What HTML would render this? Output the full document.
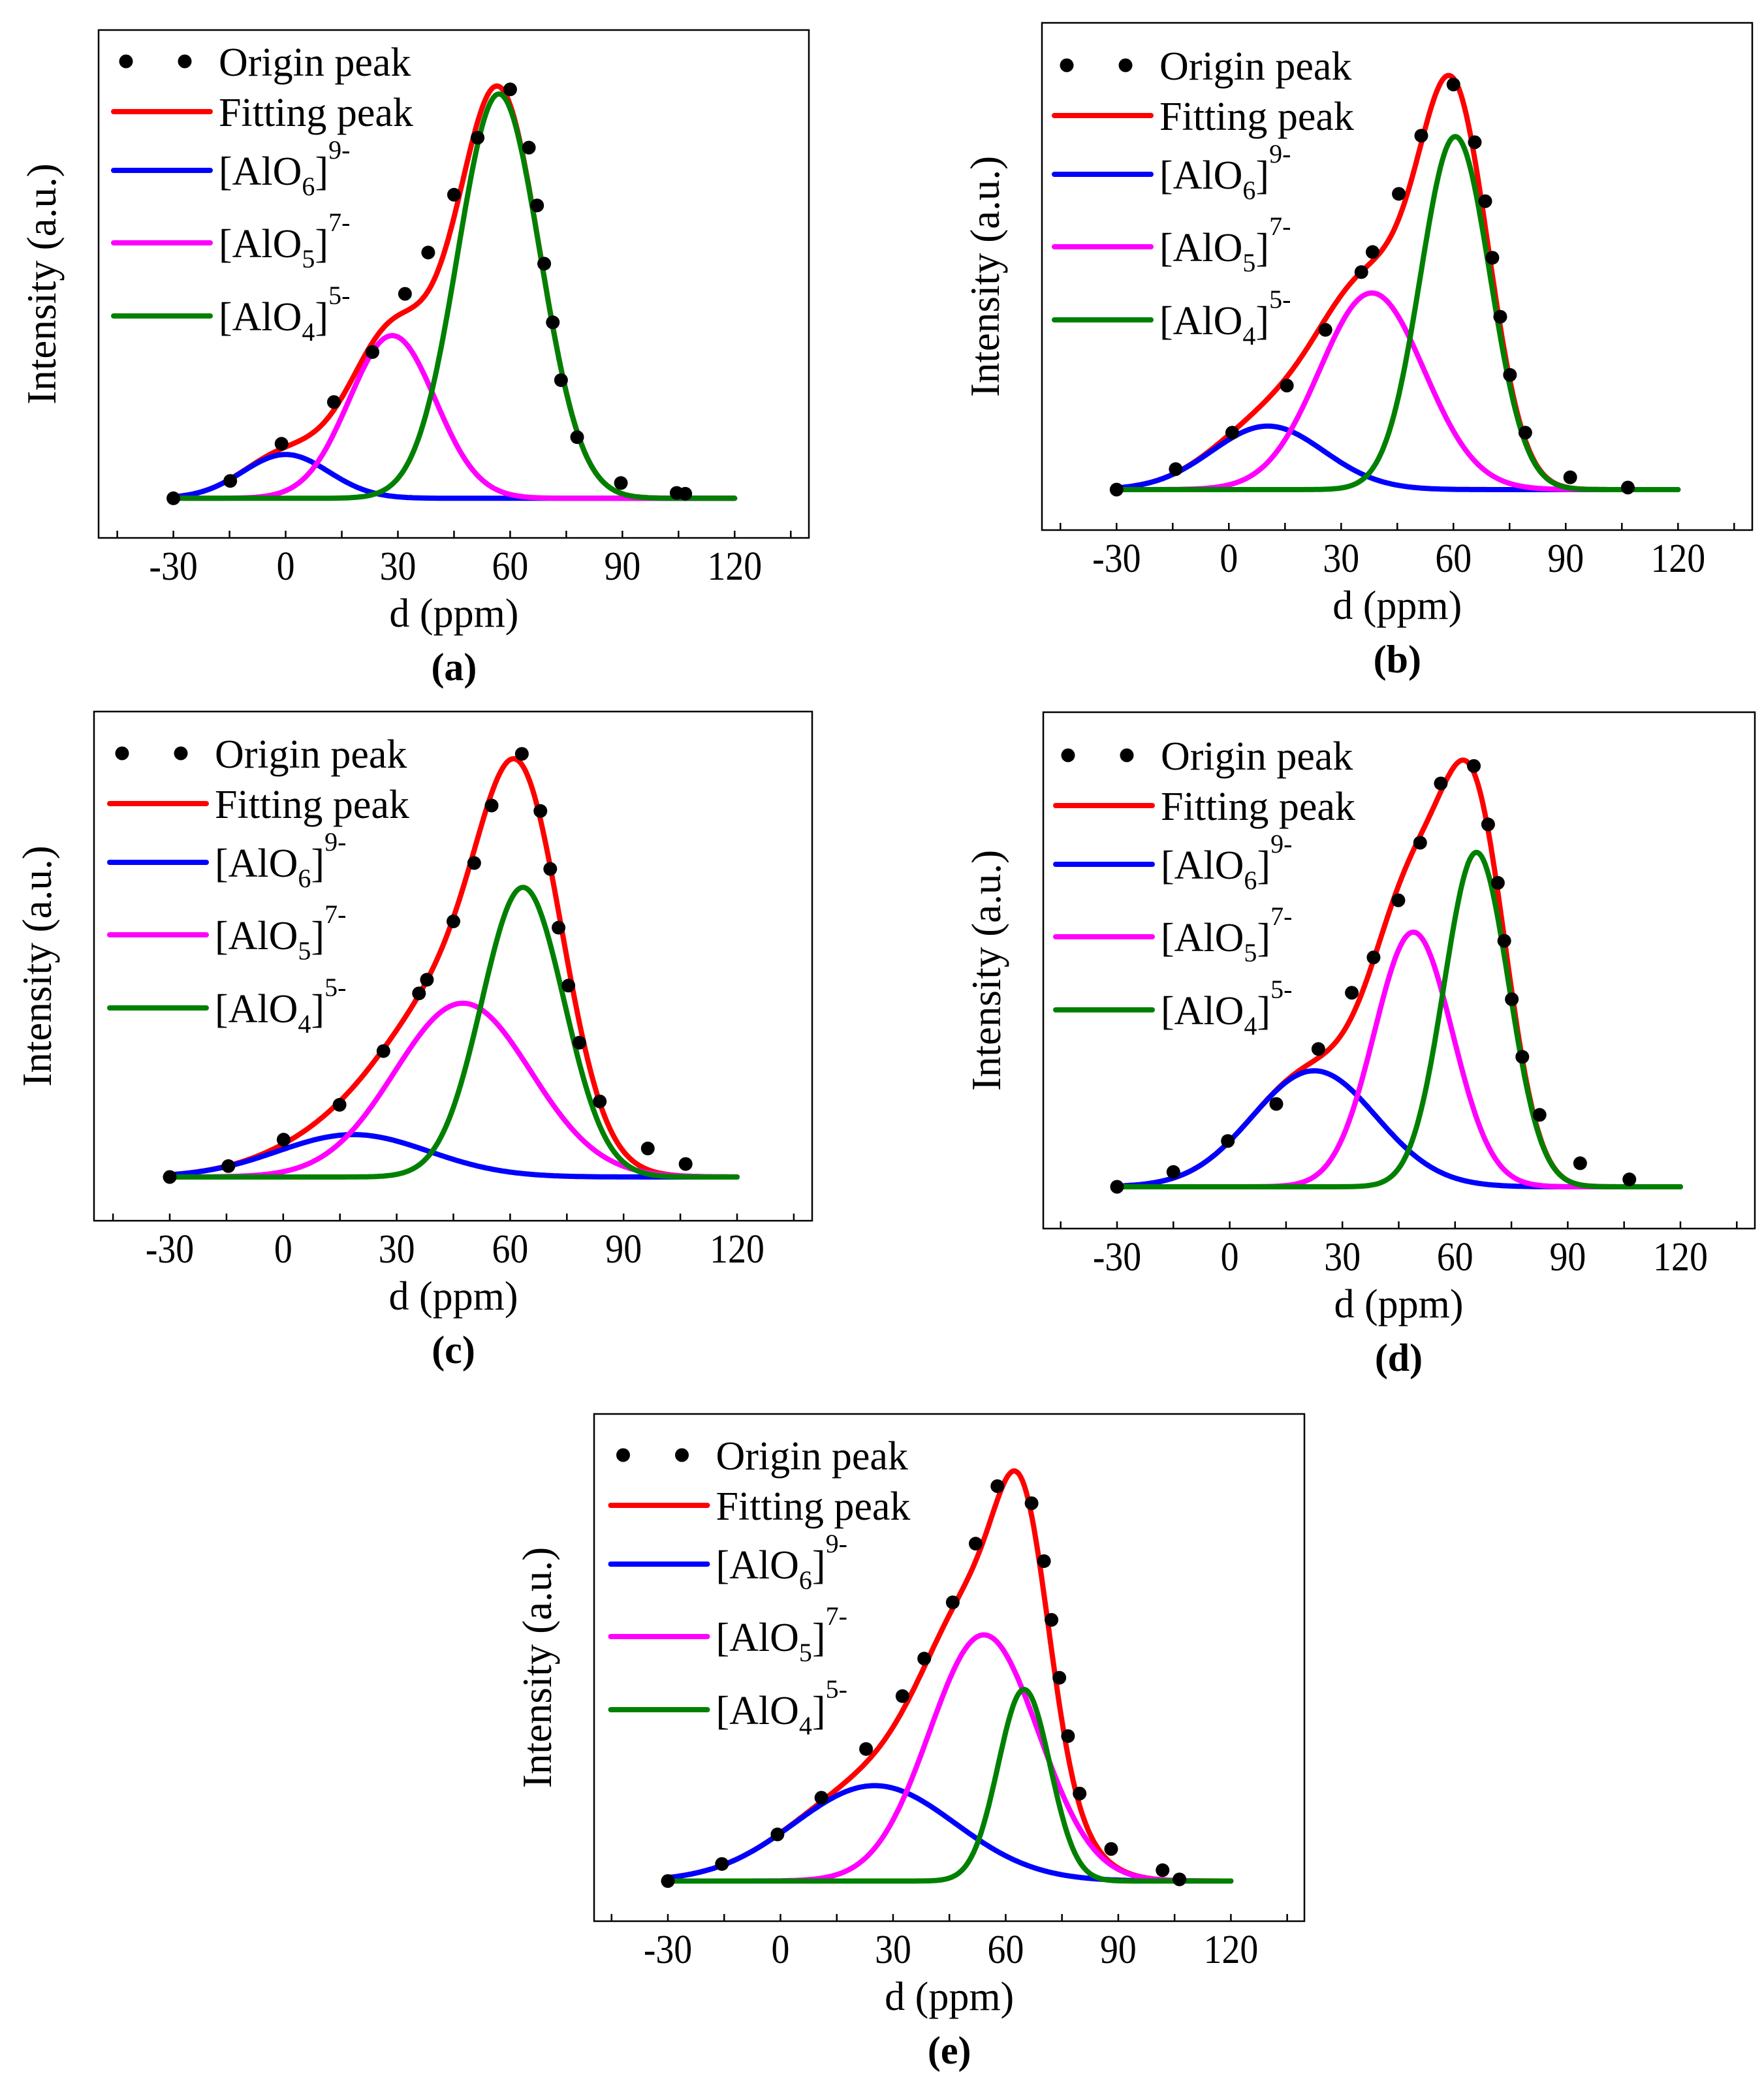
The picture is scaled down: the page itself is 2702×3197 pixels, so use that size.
<!DOCTYPE html>
<html><head><meta charset="utf-8"><style>
html,body{margin:0;padding:0;background:#fff;}
svg{display:block;}
text{font-family:"Liberation Serif","DejaVu Serif",serif;fill:#000;}
</style></head><body>
<svg id="fig" xmlns="http://www.w3.org/2000/svg" width="2702" height="3197" viewBox="0 0 2702 3197" font-family="'Liberation Serif', 'DejaVu Serif', serif"></svg>
<script>
// ---- data (ppm positions and normalized intensities) ----
const ppmA = [-30,-14.8,-1.1,12.9,23.2,31.9,38.1,45,51.3,60,65,67.2,69.1,71.4,73.6,77.9,89.6,104.5,106.8];
const intA = [0,0.042,0.132,0.233,0.354,0.495,0.595,0.735,0.873,0.99,0.849,0.709,0.568,0.426,0.286,0.148,0.037,0.013,0.011];
const centersA = [0,28.5,57];
const ampsA = [0.106,0.394,0.979];
const sigmasA = [11.5,11.5,11];

const ppmB = [-30,-14.2,0.9,15.5,25.8,35.4,38.4,45.4,51.4,60,65.7,68.5,70.4,72.5,75.1,79.2,91.2,106.6];
const intB = [0,0.05,0.139,0.254,0.39,0.531,0.58,0.722,0.864,0.989,0.848,0.704,0.566,0.422,0.28,0.139,0.03,0.005];
const centersB = [10.4,38.2,60.5];
const ampsB = [0.155,0.48,0.862];
const sigmasB = [15,14,9.3];

const ppmC = [-30,-14.5,0.1,14.9,26.5,35.9,38,45,50.5,55.1,63.1,68,70.6,72.8,75.4,78.3,83.7,96.4,106.4];
const intC = [0,0.026,0.089,0.172,0.3,0.4375,0.47,0.609,0.748,0.885,1.008,0.872,0.734,0.594,0.456,0.32,0.18,0.068,0.031];
const centersC = [18.5,47.5,63.4];
const ampsC = [0.101,0.414,0.69];
const sigmasC = [20,18,10.9];

const ppmD = [-30,-15,-0.5,12.4,23.6,32.5,38.3,44.9,50.7,56.2,65,68.8,71.4,73.1,75.1,77.9,82.5,93.3,106.4];
const intD = [0,0.034,0.105,0.19,0.316,0.445,0.526,0.657,0.789,0.925,0.965,0.831,0.697,0.564,0.43,0.298,0.165,0.054,0.017];
const centersD = [22.5,48.9,65.7];
const ampsD = [0.266,0.584,0.767];
const sigmasD = [16.5,10.4,8.6];

const ppmE = [-30,-15.6,-0.8,10.9,22.8,32.5,38.3,45.9,52,57.8,66.9,70.2,72.2,74.3,76.6,79.7,88.1,101.8,106.3];
const intE = [0,0.041,0.112,0.2,0.317,0.444,0.534,0.669,0.81,0.948,0.907,0.768,0.627,0.488,0.348,0.21,0.077,0.026,0.004];
const centersE = [25.1,54.2,64.9];
const ampsE = [0.229,0.591,0.46];
const sigmasE = [21.4,14.5,6.9];

const tickValues = [-45,-30,-15,0,15,30,45,60,75,90,105,120,135];
const tickLabels = ['-30','0','30','60','90','120'];
const labelValues = [-30,0,30,60,90,120];
const legendNames = ['Origin peak','Fitting peak','AlO6','AlO5','AlO4'];
const compColors = ['#0000ff','#ff00ff','#008000'];

const panels = [
 {id:'a',box:[151,46,1239,824],x0:265.6,x1:1125.3,base:763.3,top:130.6,leg:[174,94],ppm:ppmA,val:intA,c:centersA,a:ampsA,s:sigmasA},
 {id:'b',box:[1596,35,2684,812],x0:1710.3,x1:2570.3,base:750,top:122.5,leg:[1615,100],ppm:ppmB,val:intB,c:centersB,a:ampsB,s:sigmasB},
 {id:'c',box:[144,1090,1244,1870],x0:260,x1:1129,base:1803,top:1160,leg:[168,1154],ppm:ppmC,val:intC,c:centersC,a:ampsC,s:sigmasC},
 {id:'d',box:[1598,1091,2688,1882],x0:1711,x1:2574,base:1818,top:1150,leg:[1617,1157],ppm:ppmD,val:intD,c:centersD,a:ampsD,s:sigmasD},
 {id:'e',box:[910,2166,1998,2943],x0:1023,x1:1885.4,base:2881.5,top:2243.4,leg:[935.5,2229],ppm:ppmE,val:intE,c:centersE,a:ampsE,s:sigmasE}
];

const NS='http://www.w3.org/2000/svg';
const svg=document.getElementById('fig');
function mk(tag,parent){const e=document.createElementNS(NS,tag);parent.appendChild(e);return e;}
function gauss(x,c,a,s){return a*Math.exp(-(x-c)*(x-c)/(2*s*s));}

panels.forEach(p=>{
  const g=mk('g',svg);
  
  
  const X=v=>p.x0+(v+30)*(p.x1-p.x0)/150;
  const Y=v=>p.base-v*(p.base-p.top);
  const [bl,bt,br,bb]=p.box;
  const frame=mk('rect',g);
  frame.setAttribute('x',bl);frame.setAttribute('y',bt);frame.setAttribute('width',br-bl);frame.setAttribute('height',bb-bt);
  frame.setAttribute('fill','none');frame.setAttribute('stroke','#000');frame.setAttribute('stroke-width','2.5');
  
  
  tickValues.forEach(t=>{
    const l=mk('line',g);
    l.setAttribute('x1',X(t));l.setAttribute('x2',X(t));l.setAttribute('y1',bb);l.setAttribute('y2',bb-11);
    l.setAttribute('stroke','#000');l.setAttribute('stroke-width','2.5');
    
    
  });
  labelValues.forEach((t,i)=>{
    const tx=mk('text',g);
    tx.setAttribute('transform','translate('+X(t)+','+(bb+64)+') scale(0.9,1)');
    tx.setAttribute('text-anchor','middle');tx.setAttribute('font-size','62');
    tx.textContent=tickLabels[i];
    
    
  });
  const xl=mk('text',g);
  xl.setAttribute('x',(p.x0+p.x1)/2);xl.setAttribute('y',bb+136);xl.setAttribute('text-anchor','middle');xl.setAttribute('font-size','62');
  xl.textContent='d (ppm)';
  
  
  const pl=mk('text',g);
  pl.setAttribute('x',(p.x0+p.x1)/2);pl.setAttribute('y',bb+218);pl.setAttribute('text-anchor','middle');pl.setAttribute('font-size','60');pl.setAttribute('font-weight','bold');
  pl.textContent='('+p.id+')';
  
  
  const yl=mk('text',g);
  yl.setAttribute('transform','translate('+(bl-66)+','+((bt+bb)/2)+') rotate(-90)');
  yl.setAttribute('text-anchor','middle');yl.setAttribute('font-size','63');
  yl.textContent='Intensity (a.u.)';
  
  

  function pathFor(fn){let d='';for(let v=-30;v<=120.001;v+=0.5){d+=(d?'L':'M')+X(v).toFixed(1)+','+Y(fn(v)).toFixed(1);}return d;}
  const fit=mk('path',g);
  fit.setAttribute('d',pathFor(v=>p.c.reduce((s,c,i)=>s+gauss(v,c,p.a[i],p.s[i]),0)));
  fit.setAttribute('fill','none');fit.setAttribute('stroke','#ff0000');fit.setAttribute('stroke-width','8');fit.setAttribute('stroke-linejoin','round');fit.setAttribute('stroke-linecap','round');
  
  
  const compNames=['alo6-line','alo5-line','alo4-line'];
  p.c.forEach((c,i)=>{
    const cp=mk('path',g);
    cp.setAttribute('d',pathFor(v=>gauss(v,c,p.a[i],p.s[i])));
    cp.setAttribute('fill','none');cp.setAttribute('stroke',compColors[i]);cp.setAttribute('stroke-width','8');cp.setAttribute('stroke-linejoin','round');cp.setAttribute('stroke-linecap','round');
    
    
  });
  p.ppm.forEach((v,i)=>{
    const ci=mk('circle',g);
    ci.setAttribute('cx',X(v));ci.setAttribute('cy',Y(p.val[i]));ci.setAttribute('r','10.5');ci.setAttribute('fill','#000');
    
    
  });

  const [lx,ly]=p.leg;
  const rowOff=[0,77,167,278,390];
  const lg=mk('g',g);
  
  
  [19,109].forEach(dx=>{
    const d=mk('circle',lg);
    d.setAttribute('cx',lx+dx);d.setAttribute('cy',ly);d.setAttribute('r','10.5');d.setAttribute('fill','#000');
    
    
  });
  const lineColors=[null,'#ff0000','#0000ff','#ff00ff','#008000'];
  const subs=[null,null,'6','5','4'];
  const sups=[null,null,'9-','7-','5-'];
  legendNames.forEach((nm,i)=>{
    const yy=ly+rowOff[i];
    if(lineColors[i]){
      const l=mk('line',lg);
      l.setAttribute('x1',lx);l.setAttribute('x2',lx+148);l.setAttribute('y1',yy);l.setAttribute('y2',yy);
      l.setAttribute('stroke',lineColors[i]);l.setAttribute('stroke-width','8');l.setAttribute('stroke-linecap','round');
      
      
    }
    const t=mk('text',lg);
    t.setAttribute('x',lx+161);t.setAttribute('y',yy+22);t.setAttribute('font-size','62');
    
    
    if(!subs[i]){t.textContent=nm;}
    else{
      const a=mk('tspan',t);a.textContent='[AlO';
      const b=mk('tspan',t);b.setAttribute('font-size','40');b.setAttribute('dy','16');b.textContent=subs[i];
      const c=mk('tspan',t);c.setAttribute('dy','-16');c.textContent=']';
      const d=mk('tspan',t);d.setAttribute('font-size','40');d.setAttribute('dy','-40');d.textContent=sups[i];
    }
  });
});
</script>
</body></html>
